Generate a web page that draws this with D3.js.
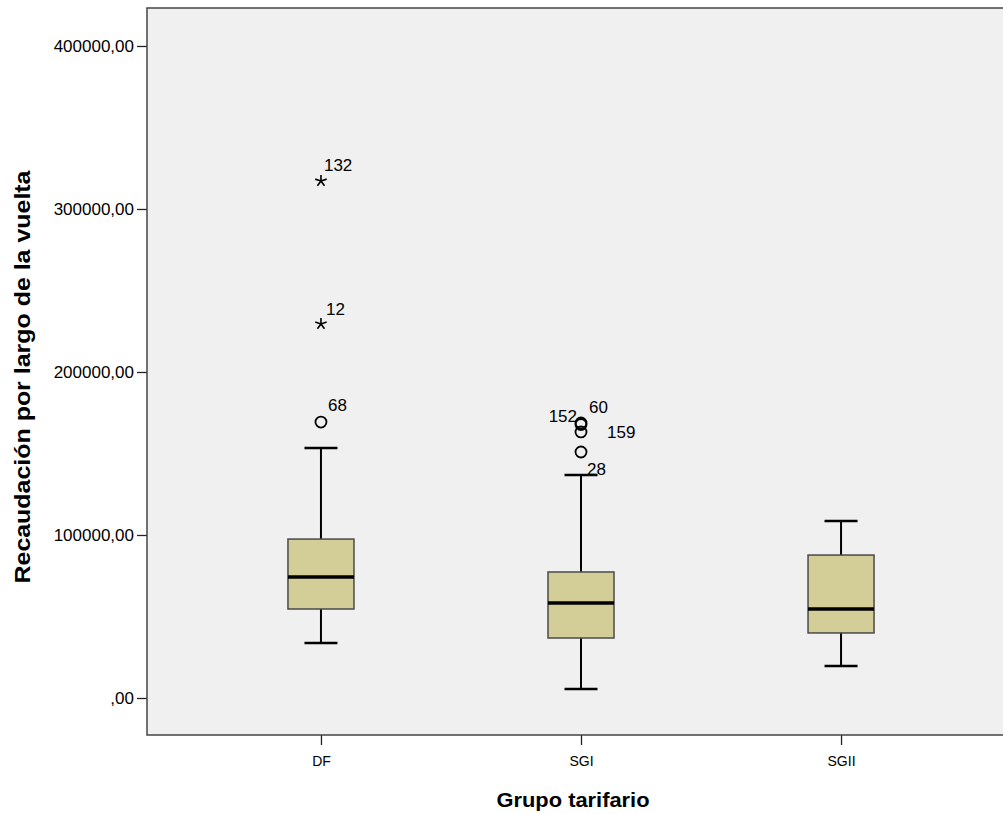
<!DOCTYPE html>
<html>
<head>
<meta charset="utf-8">
<script src="https://cdn.jsdelivr.net/npm/d3@7"></script>
<style>
  body { margin: 0; background: #fff; }
  text { font-family: "Liberation Sans", Arial, sans-serif; fill: #000; }
</style>
</head>
<body>
<div id="chart"></div>
<script>
// groups and box statistics
const categories = ["DF", "SGI", "SGII"];
const whiskerLow = [33700, 5500, 19600];
const q1 = [54600, 36800, 39900];
const median = [74200, 58300, 54600];
const q3 = [97500, 77300, 87700];
const whiskerHigh = [153400, 136800, 108600];

// outliers: group, case id, value, kind (circle = outlier, star = extreme)
const outlierGroup = ["DF", "DF", "DF", "SGI", "SGI", "SGI", "SGI"];
const outlierId = ["132", "12", "68", "60", "152", "159", "28"];
const outlierValue = [317800, 230100, 169300, 168700, 167800, 163200, 150900];
const outlierKind = ["star", "star", "circle", "circle", "circle", "circle", "circle"];

const yTicks = [0, 100000, 200000, 300000, 400000];

const width = 1003, height = 814;
const plotLeft = 147, plotTop = 8, plotBottom = 735, plotRight = 1015;

const svg = d3.select("#chart").append("svg")
    .attr("width", width)
    .attr("height", height);

const x = d3.scalePoint()
    .domain(categories)
    .range([plotLeft, plotRight])
    .padding(0.669);

const y = d3.scaleLinear()
    .domain([-22700, 423300])
    .range([plotBottom, plotTop]);

// plot background
svg.append("rect")
    .attr("x", plotLeft).attr("y", plotTop)
    .attr("width", plotRight - plotLeft).attr("height", plotBottom - plotTop)
    .attr("fill", "#f0f0f0");

// y axis
const yAxis = d3.axisLeft(y)
    .tickValues(yTicks)
    .tickSize(10)
    .tickPadding(3)
    .tickFormat(d => d === 0 ? ",00" : d + ",00");
const gy = svg.append("g")
    .attr("transform", `translate(${plotLeft},0)`)
    .call(yAxis);
gy.select(".domain").remove();
gy.selectAll(".tick line").attr("stroke", "#222").attr("stroke-width", 1.3);
gy.selectAll(".tick text").style("font-size", "17px");

// x axis
const xAxis = d3.axisBottom(x).tickSize(10).tickPadding(11);
const gx = svg.append("g")
    .attr("transform", `translate(0,${plotBottom})`)
    .call(xAxis);
gx.select(".domain").remove();
gx.selectAll(".tick line").attr("stroke", "#222").attr("stroke-width", 1.3);
gx.selectAll(".tick text").style("font-size", "14px");

// frame
svg.append("rect")
    .attr("x", plotLeft).attr("y", plotTop)
    .attr("width", plotRight - plotLeft).attr("height", plotBottom - plotTop)
    .attr("fill", "none")
    .attr("stroke", "#444")
    .attr("stroke-width", 1.5);

// boxes
const boxW = 66, capW = 33;
const boxes = categories.map((c, i) => ({
    cat: c, lo: whiskerLow[i], q1: q1[i], med: median[i], q3: q3[i], hi: whiskerHigh[i]
}));

const g = svg.append("g");
boxes.forEach(b => {
    const cx = x(b.cat);
    // whisker stems
    g.append("line").attr("x1", cx).attr("x2", cx)
        .attr("y1", y(b.hi)).attr("y2", y(b.q3))
        .attr("stroke", "#000").attr("stroke-width", 2);
    g.append("line").attr("x1", cx).attr("x2", cx)
        .attr("y1", y(b.q1)).attr("y2", y(b.lo))
        .attr("stroke", "#000").attr("stroke-width", 2);
    // caps
    [b.hi, b.lo].forEach(v => {
        g.append("line").attr("x1", cx - capW / 2).attr("x2", cx + capW / 2)
            .attr("y1", y(v)).attr("y2", y(v))
            .attr("stroke", "#000").attr("stroke-width", 2.5);
    });
    // box
    g.append("rect")
        .attr("x", cx - boxW / 2).attr("y", y(b.q3))
        .attr("width", boxW).attr("height", y(b.q1) - y(b.q3))
        .attr("fill", "#d3ce98")
        .attr("stroke", "#4a4a4a").attr("stroke-width", 1.5);
    // median
    g.append("line").attr("x1", cx - boxW / 2).attr("x2", cx + boxW / 2)
        .attr("y1", y(b.med)).attr("y2", y(b.med))
        .attr("stroke", "#000").attr("stroke-width", 3.5);
});

// outliers
const labelOffset = {
    "132": [3, -9, "start"], "12": [5, -8, "start"], "68": [7, -11, "start"],
    "60": [8, -10, "start"], "152": [-4, -2, "end"], "159": [26, 6, "start"],
    "28": [6, 23, "start"]
};
const outliers = outlierId.map((id, i) => ({
    id: id, cat: outlierGroup[i], v: outlierValue[i], kind: outlierKind[i]
}));

const starPath = (() => {
    const r = 6;
    let p = "";
    for (let k = 0; k < 5; k++) {
        const a = -Math.PI / 2 + k * 2 * Math.PI / 5;
        p += `M0,0L${(r * Math.cos(a)).toFixed(2)},${(r * Math.sin(a)).toFixed(2)}`;
    }
    return p;
})();

outliers.forEach(o => {
    const cx = x(o.cat), cy = y(o.v);
    if (o.kind === "star") {
        g.append("path").attr("d", starPath)
            .attr("transform", `translate(${cx},${cy + 1})`)
            .attr("stroke", "#000").attr("stroke-width", 1.6).attr("fill", "none");
    } else {
        g.append("circle").attr("cx", cx).attr("cy", cy).attr("r", 5.5)
            .attr("fill", "none").attr("stroke", "#000").attr("stroke-width", 1.8);
    }
    const off = labelOffset[o.id];
    g.append("text")
        .attr("x", cx + off[0]).attr("y", cy + off[1])
        .attr("text-anchor", off[2])
        .style("font-size", "17px")
        .text(o.id);
});

// axis titles
svg.append("text")
    .attr("x", 573).attr("y", 807)
    .attr("text-anchor", "middle")
    .style("font-size", "20px").style("font-weight", "bold")
    .attr("textLength", 153).attr("lengthAdjust", "spacingAndGlyphs")
    .text("Grupo tarifario");

svg.append("text")
    .attr("transform", "translate(30,377) rotate(-90)")
    .attr("text-anchor", "middle")
    .style("font-size", "22px").style("font-weight", "bold")
    .attr("textLength", 413).attr("lengthAdjust", "spacingAndGlyphs")
    .text("Recaudación por largo de la vuelta");
</script>
</body>
</html>
